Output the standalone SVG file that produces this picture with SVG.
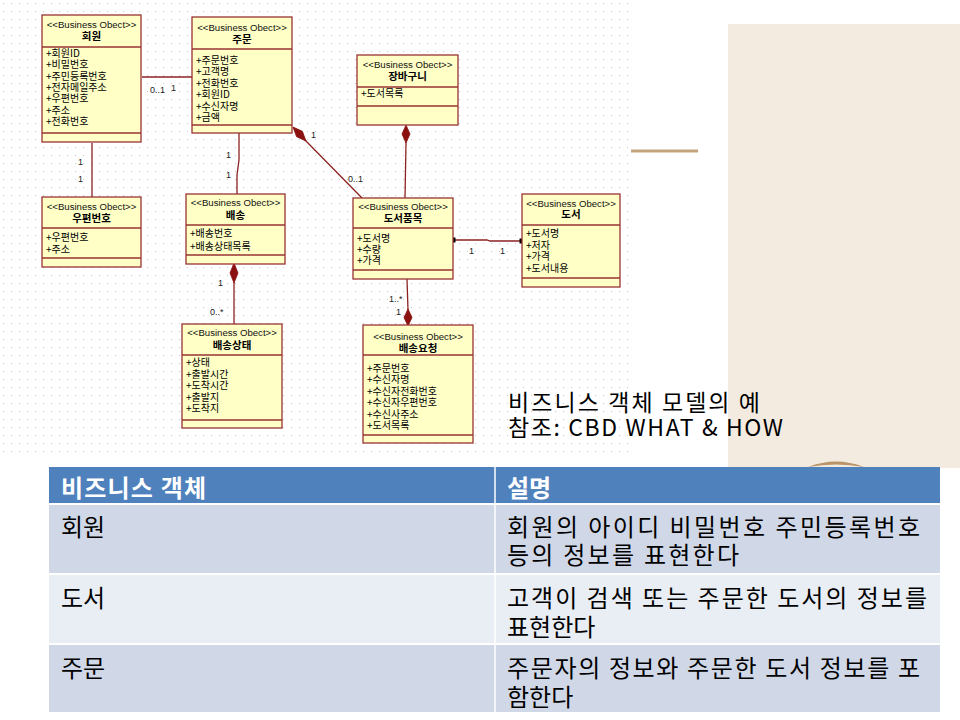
<svg xmlns="http://www.w3.org/2000/svg" width="960" height="720" viewBox="0 0 960 720">
<defs>
<pattern id="dots" width="8" height="8" patternUnits="userSpaceOnUse">
<rect x="3" y="3" width="1" height="1" fill="#c8c8c8"/>
</pattern>
</defs>
<style>
.box{fill:#FFFFC6;stroke:#993333;stroke-width:1.3}
.sep{stroke:#993333;stroke-width:1.3}
.st{font-family:"Liberation Sans",Arial,sans-serif;font-size:9.6px;fill:#111;text-anchor:middle}
.nm{font-family:"Noto Sans CJK KR",sans-serif;font-size:10.5px;font-weight:bold;fill:#000;text-anchor:middle}
.at{font-family:"Noto Sans CJK KR",sans-serif;font-size:10px;fill:#000}
.ln{stroke:#8B2222;stroke-width:1.3;fill:none}
.dm{fill:#8B1010;stroke:#8B1010;stroke-width:0.8}
.ml{font-family:"Liberation Sans",Arial,sans-serif;font-size:9px;fill:#222}
.cap{font-family:"Noto Sans CJK KR",sans-serif;font-size:23px;fill:#000}
.th{font-family:"Noto Sans CJK KR",sans-serif;font-size:24px;font-weight:bold;fill:#fff}
.td{font-family:"Noto Sans CJK KR",sans-serif;font-size:24px;fill:#000}
</style>
<rect width="960" height="720" fill="#fff"/>
<rect x="0" y="0" width="632" height="458" fill="url(#dots)"/>
<rect x="728" y="24" width="232" height="444" fill="#F4EBE0"/>
<line x1="631" y1="151" x2="698" y2="151" stroke="#C4A47C" stroke-width="3"/>
<path d="M808,467 Q836,456 864,467 Q836,462 808,467 Z" fill="#B89468"/>

<g id="connectors">
<line class="ln" x1="142" y1="77" x2="192" y2="77"/>
<line class="ln" x1="92" y1="143" x2="92" y2="197"/>
<polyline class="ln" points="239,133 239,160 237,175 237,194"/>
<line class="ln" x1="304" y1="139" x2="362" y2="198"/>
<polygon class="dm" points="293,127 296.6,136.7 306,141 302.4,131.3"/>
<line class="ln" x1="406" y1="142" x2="405" y2="198"/>
<polygon class="dm" points="406,125 410,134 406,143 402,134"/>
<polyline class="ln" points="453,240 487,240 490,241 522,241"/>
<rect x="450.5" y="237.5" width="5" height="5" fill="#000"/>
<rect x="519.5" y="238.5" width="5" height="5" fill="#000"/>
<line class="ln" x1="234" y1="282" x2="234" y2="324"/>
<polygon class="dm" points="234,263 238,273 234,283 230,273"/>
<line class="ln" x1="407" y1="279" x2="408" y2="310"/>
<polygon class="dm" points="408,309 412,317.5 408,326 404,317.5"/>
<text class="ml" x="150" y="93">0..1</text>
<text class="ml" x="171" y="91">1</text>
<text class="ml" x="78" y="165">1</text>
<text class="ml" x="78" y="182">1</text>
<text class="ml" x="226" y="158">1</text>
<text class="ml" x="226" y="178">1</text>
<text class="ml" x="311" y="138">1</text>
<text class="ml" x="348" y="182">0..1</text>
<text class="ml" x="469" y="254">1</text>
<text class="ml" x="500" y="254">1</text>
<text class="ml" x="218" y="286">1</text>
<text class="ml" x="210" y="315">0..*</text>
<text class="ml" x="389" y="302">1..*</text>
<text class="ml" x="396" y="315">1</text>
</g>

<g id="node-member">
<rect class="box" x="42" y="15" width="99" height="127"/>
<line class="sep" x1="42" y1="47" x2="141" y2="47"/>
<line class="sep" x1="42" y1="133" x2="141" y2="133"/>
<text class="st" x="91.5" y="28">&lt;&lt;Business Obect&gt;&gt;</text>
<text class="nm" x="91.5" y="40">회원</text>
<text class="at" x="46" y="57">+회원ID</text>
<text class="at" x="46" y="68.3">+비밀번호</text>
<text class="at" x="46" y="79.6">+주민등록번호</text>
<text class="at" x="46" y="90.9">+전자메일주소</text>
<text class="at" x="46" y="102.2">+우편번호</text>
<text class="at" x="46" y="113.5">+주소</text>
<text class="at" x="46" y="124.8">+전화번호</text>
</g>

<g id="node-order">
<rect class="box" x="192" y="17" width="100" height="116"/>
<line class="sep" x1="192" y1="49" x2="292" y2="49"/>
<line class="sep" x1="192" y1="125" x2="292" y2="125"/>
<text class="st" x="242" y="31">&lt;&lt;Business Obect&gt;&gt;</text>
<text class="nm" x="242" y="43">주문</text>
<text class="at" x="196" y="64">+주문번호</text>
<text class="at" x="196" y="75.4">+고객명</text>
<text class="at" x="196" y="86.8">+전화번호</text>
<text class="at" x="196" y="98.2">+회원ID</text>
<text class="at" x="196" y="109.6">+수신자명</text>
<text class="at" x="196" y="121">+금액</text>
</g>

<g id="node-cart">
<rect class="box" x="357" y="55" width="101" height="70"/>
<line class="sep" x1="357" y1="87" x2="458" y2="87"/>
<line class="sep" x1="357" y1="106" x2="458" y2="106"/>
<text class="st" x="407.5" y="68">&lt;&lt;Business Obect&gt;&gt;</text>
<text class="nm" x="407.5" y="80">장바구니</text>
<text class="at" x="361" y="97">+도서목록</text>
</g>

<g id="node-zip">
<rect class="box" x="42" y="197" width="99" height="70"/>
<line class="sep" x1="42" y1="228" x2="141" y2="228"/>
<line class="sep" x1="42" y1="258" x2="141" y2="258"/>
<text class="st" x="91.5" y="210">&lt;&lt;Business Obect&gt;&gt;</text>
<text class="nm" x="91.5" y="222">우편번호</text>
<text class="at" x="46" y="241">+우편번호</text>
<text class="at" x="46" y="253">+주소</text>
</g>

<g id="node-delivery">
<rect class="box" x="186" y="194" width="99" height="70"/>
<line class="sep" x1="186" y1="225" x2="285" y2="225"/>
<line class="sep" x1="186" y1="255" x2="285" y2="255"/>
<text class="st" x="235.5" y="206">&lt;&lt;Business Obect&gt;&gt;</text>
<text class="nm" x="235.5" y="219">배송</text>
<text class="at" x="190" y="237">+배송번호</text>
<text class="at" x="190" y="250">+배송상태목록</text>
</g>

<g id="node-bookitem">
<rect class="box" x="353" y="198" width="100" height="81"/>
<line class="sep" x1="353" y1="228" x2="453" y2="228"/>
<line class="sep" x1="353" y1="270" x2="453" y2="270"/>
<text class="st" x="403" y="210">&lt;&lt;Business Obect&gt;&gt;</text>
<text class="nm" x="403" y="222">도서품목</text>
<text class="at" x="357" y="242">+도서명</text>
<text class="at" x="357" y="253">+수량</text>
<text class="at" x="357" y="264">+가격</text>
</g>

<g id="node-book">
<rect class="box" x="522" y="194" width="98" height="93"/>
<line class="sep" x1="522" y1="225" x2="620" y2="225"/>
<line class="sep" x1="522" y1="278" x2="620" y2="278"/>
<text class="st" x="571" y="207">&lt;&lt;Business Obect&gt;&gt;</text>
<text class="nm" x="571" y="218">도서</text>
<text class="at" x="526" y="237">+도서명</text>
<text class="at" x="526" y="248.5">+저자</text>
<text class="at" x="526" y="260">+가격</text>
<text class="at" x="526" y="271.5">+도서내용</text>
</g>

<g id="node-deliverystatus">
<rect class="box" x="182" y="324" width="100" height="104"/>
<line class="sep" x1="182" y1="355" x2="282" y2="355"/>
<line class="sep" x1="182" y1="420" x2="282" y2="420"/>
<text class="st" x="232" y="336">&lt;&lt;Business Obect&gt;&gt;</text>
<text class="nm" x="232" y="349">배송상태</text>
<text class="at" x="186" y="366">+상태</text>
<text class="at" x="186" y="377.5">+출발시간</text>
<text class="at" x="186" y="389">+도착시간</text>
<text class="at" x="186" y="400.5">+출발지</text>
<text class="at" x="186" y="412">+도착지</text>
</g>

<g id="node-deliveryrequest">
<rect class="box" x="363" y="325" width="110" height="118"/>
<line class="sep" x1="363" y1="355" x2="473" y2="355"/>
<line class="sep" x1="363" y1="435" x2="473" y2="435"/>
<text class="st" x="418" y="340">&lt;&lt;Business Obect&gt;&gt;</text>
<text class="nm" x="418" y="352">배송요청</text>
<text class="at" x="367" y="372">+주문번호</text>
<text class="at" x="367" y="383.4">+수신자명</text>
<text class="at" x="367" y="394.8">+수신자전화번호</text>
<text class="at" x="367" y="406.2">+수신자우편번호</text>
<text class="at" x="367" y="417.6">+수신사주소</text>
<text class="at" x="367" y="429">+도서목록</text>
</g>

<g id="caption">
<text class="cap" x="508" y="411" textLength="252" lengthAdjust="spacing">비즈니스 객체 모델의 예</text>
<text class="cap" x="508" y="436" textLength="275" lengthAdjust="spacing">참조: CBD WHAT &amp; HOW</text>
</g>

<g id="table">
<rect x="49" y="467" width="891" height="36" fill="#4F81BD"/>
<rect x="49" y="505" width="891" height="68" fill="#D0D8E8"/>
<rect x="49" y="575" width="891" height="68" fill="#E9EDF4"/>
<rect x="49" y="645" width="891" height="67" fill="#D0D8E8"/>
<line x1="495" y1="467" x2="495" y2="712" stroke="#fff" stroke-width="1.5"/>
<text class="th" x="61" y="497" textLength="145" lengthAdjust="spacing">비즈니스 객체</text>
<text class="th" x="507" y="497">설명</text>
<text class="td" x="61" y="536">회원</text>
<text class="td" x="507" y="536" textLength="413" lengthAdjust="spacing">회원의 아이디  비밀번호 주민등록번호</text>
<text class="td" x="507" y="564" textLength="232" lengthAdjust="spacing">등의 정보를 표현한다</text>
<text class="td" x="61" y="607">도서</text>
<text class="td" x="507" y="607" textLength="420" lengthAdjust="spacing">고객이 검색 또는 주문한 도서의 정보를</text>
<text class="td" x="507" y="636">표현한다</text>
<text class="td" x="61" y="677">주문</text>
<text class="td" x="507" y="677" textLength="413" lengthAdjust="spacing">주문자의 정보와 주문한 도서 정보를 포</text>
<text class="td" x="507" y="706">함한다</text>
</g>
</svg>
